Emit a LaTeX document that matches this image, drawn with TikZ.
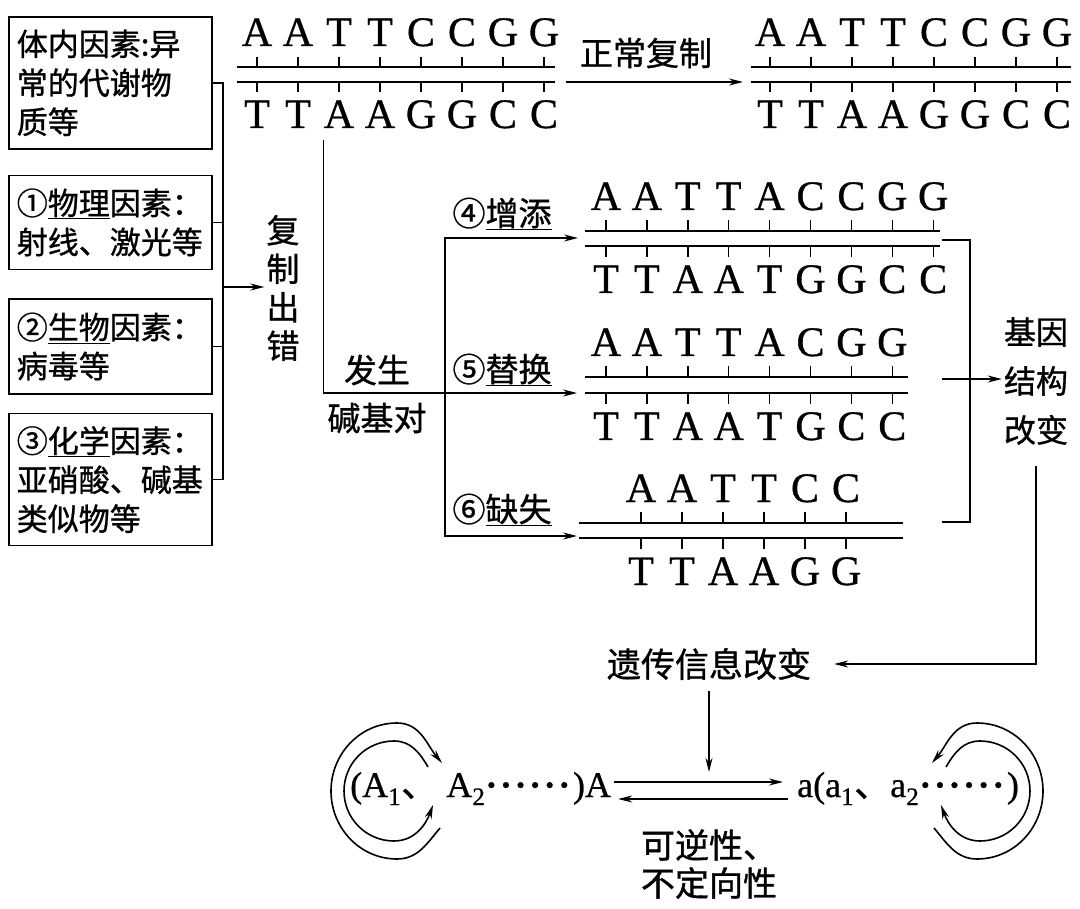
\documentclass[tikz,border=0pt]{standalone}
\usepackage{fontspec}
\setmainfont{Noto Sans CJK SC}[FakeBold=0.9]
\newfontfamily\latin{Liberation Serif}[FakeBold=0.7]
\usepackage{tikz}
\usetikzlibrary{positioning,arrows.meta}
\newcommand{\dd}{{\bfseries\textperiodcentered}\kern2.6pt}

\begin{document}
\begin{tikzpicture}[x=1pt, y=1pt,
    factor/.style={draw, line width=1.6pt, text width=187pt, inner xsep=8pt,
                   align=left, font=\fontsize{31}{39}\selectfont},
    lbl/.style={inner sep=2pt, align=center, font=\fontsize{33}{39}\selectfont},
    nuc/.style={inner sep=0pt, anchor=base, font=\latin\fontsize{42}{42}\selectfont},
    strand/.style={line width=1.8pt},
    rung/.style={line width=1.4pt},
    ln/.style={line width=1.6pt},
    arr/.style={-{Stealth[length=14pt, width=7pt]}, line width=1.6pt},
    gene/.style={inner sep=0pt, font=\latin\fontsize{36}{36}\selectfont}
  ]
  \useasboundingbox (0,0) rectangle (1080,-909);

  % causes of mutation
  \node[factor, minimum height=132pt, anchor=north west] (body) at (8,-16)
    {体内因素:异\\常的代谢物\\质等};
  \node[factor, minimum height=94pt, below=25pt of body] (phys)
    {①\underline{物理}因素：\\射线、激光等};
  \node[factor, minimum height=95pt, below=28pt of phys] (bio)
    {②\underline{生物}因素：\\病毒等};
  \node[factor, minimum height=132pt, below=18pt of bio] (chem)
    {③\underline{化学}因素：\\亚硝酸、碱基\\类似物等};

  \node[lbl, font=\fontsize{33}{38.5}\selectfont] (err) at (283,-288) {复\\制\\出\\错};
  \coordinate (bus) at (223,-287);
  \draw[ln] (body.east) -| (bus) (chem.east) -| (bus)
            (phys.east) -- (phys.east -| bus) (bio.east) -- (bio.east -| bus);
  \draw[arr] (bus) -- (bus -| err.west);

  % original DNA
  \draw[strand] (237,-67) -- (555,-67) (237,-82) -- (555,-82);
  \foreach \tb/\bb [count=\i from 0] in {A/T,A/T,T/A,T/A,C/G,C/G,G/C,G/C}{
    \draw[rung] (257+41*\i,-57) -- ++(0,-10) (257+41*\i,-82) -- ++(0,-10);
    \node[nuc] (d1t\i) at (257+41*\i,-46) {\tb};
    \node[nuc] (d1b\i) at (257+41*\i,-128) {\bb};
  }

  % normal copy
  \draw[strand] (751,-67) -- (1071,-67) (751,-82) -- (1071,-82);
  \foreach \tb/\bb [count=\i from 0] in {A/T,A/T,T/A,T/A,C/G,C/G,G/C,G/C}{
    \draw[rung] (770+41*\i,-57) -- ++(0,-10) (770+41*\i,-82) -- ++(0,-10);
    \node[nuc] (d2t\i) at (770+41*\i,-46) {\tb};
    \node[nuc] (d2b\i) at (770+41*\i,-128) {\bb};
  }
  \node[lbl] (normal) at (646,-53) {正常复制};
  \coordinate (d1r) at (555,-82);
  \coordinate (d2l) at (751,-82);
  \draw[arr, shorten <=11pt, shorten >=8pt] (d1r) -- (d2l);

  % addition
  \draw[strand] (585,-231) -- (940,-231) (585,-246) -- (940,-246);
  \foreach \tb/\bb [count=\i from 0] in {A/T,A/T,T/A,T/A,A/T,C/G,C/G,G/C,G/C}{
    \draw[rung] (606+40.9*\i,-220) -- ++(0,-11) (606+40.9*\i,-246) -- ++(0,-11);
    \node[nuc] (d3t\i) at (606+40.9*\i,-210) {\tb};
    \node[nuc] (d3b\i) at (606+40.9*\i,-293) {\bb};
  }

  % substitution
  \draw[strand] (585,-377) -- (908,-377) (585,-393) -- (908,-393);
  \foreach \tb/\bb [count=\i from 0] in {A/T,A/T,T/A,T/A,A/T,C/G,G/C,G/C}{
    \draw[rung] (606+40.9*\i,-366) -- ++(0,-11) (606+40.9*\i,-393) -- ++(0,-11);
    \node[nuc] (d4t\i) at (606+40.9*\i,-356) {\tb};
    \node[nuc] (d4b\i) at (606+40.9*\i,-440) {\bb};
  }

  % deletion
  \draw[strand] (579,-523) -- (903,-523) (579,-538) -- (903,-538);
  \foreach \tb/\bb [count=\i from 0] in {A/T,A/T,T/A,T/A,C/G,C/G}{
    \draw[rung] (641+41*\i,-512) -- ++(0,-11) (641+41*\i,-538) -- ++(0,-11);
    \node[nuc] (d5t\i) at (641+41*\i,-502) {\tb};
    \node[nuc] (d5b\i) at (641+41*\i,-585) {\bb};
  }

  \coordinate (s3) at (578,-238);
  \coordinate (s4) at (577,-393);
  \coordinate (s5) at (577,-536);
  \coordinate (fork) at (445,-393);
  \draw[arr] ([yshift=-12pt]d1b2.south west) |- (s4);
  \draw[arr] (fork) |- (s3);
  \draw[arr] (fork) |- (s5);
  \node[lbl, font=\fontsize{33}{48}\selectfont] (occur) at (377,-394) {发生\\碱基对};
  \node[lbl] (add) at (502,-214) {④\underline{增添}};
  \node[lbl] (sub) at (502,-370) {⑤\underline{替换}};
  \node[lbl] (del) at (502,-510) {⑥\underline{缺失}};

  % gene structure changed
  \draw[ln] (942,-240) -| (970,-522) -- (942,-522);
  \coordinate (brk) at (942,-379);
  \node[lbl, font=\fontsize{32}{49}\selectfont] (struct) at (1036,-381) {基因\\结构\\改变};
  \draw[arr] (brk) -- (brk -| struct.west);

  \node[lbl, font=\fontsize{34}{38}\selectfont] (info) at (709,-664) {遗传信息改变};
  \draw[arr, shorten <=19pt] (struct.south) |- ([xshift=21pt]info.east);
  \coordinate (meet) at (709,-772);
  \draw[arr, shorten <=9pt] (info.south) -- (meet);

  % alleles
  \node[gene, anchor=base west] (geneA) at (350,-797)
    {(A\textsubscript{1}{\rmfamily 、} A\textsubscript{2}\dd\dd\dd\dd\dd\dd)A};
  \node[gene, anchor=base west] (genea) at (797,-797)
    {a(a\textsubscript{1}{\rmfamily 、}a\textsubscript{2}\dd\dd\dd\dd\dd\dd)};
  \draw[arr, shorten <=3pt, shorten >=14pt] (geneA.east |- 0,-782) -- (genea.west |- 0,-782);
  \draw[arr, shorten <=9pt, shorten >=7pt] (genea.west |- 0,-799) -- (geneA.east |- 0,-799);
  \node[lbl, font=\fontsize{34}{38}\selectfont] (rev) at (709,-864) {可逆性、\\不定向性};

  \draw[arr] (440,-828) to[out=-130,in=0] (397,-859) to[out=180,in=-90] (331,-791)
    to[out=90,in=180] (397,-723) to[out=0,in=130] (442,-763);
  \draw[arr] (428,-767) to[out=120,in=0] (394,-741) to[out=180,in=90] (344,-791)
    to[out=-90,in=180] (394,-841) to[out=0,in=-110] (433,-805);
  \draw[arr] (934,-828) to[out=-50,in=180] (977,-859) to[out=0,in=-90] (1043,-791)
    to[out=90,in=0] (977,-723) to[out=180,in=50] (932,-763);
  \draw[arr] (946,-767) to[out=60,in=180] (980,-741) to[out=0,in=90] (1030,-791)
    to[out=-90,in=0] (980,-841) to[out=180,in=-70] (941,-805);
\end{tikzpicture}
\end{document}
